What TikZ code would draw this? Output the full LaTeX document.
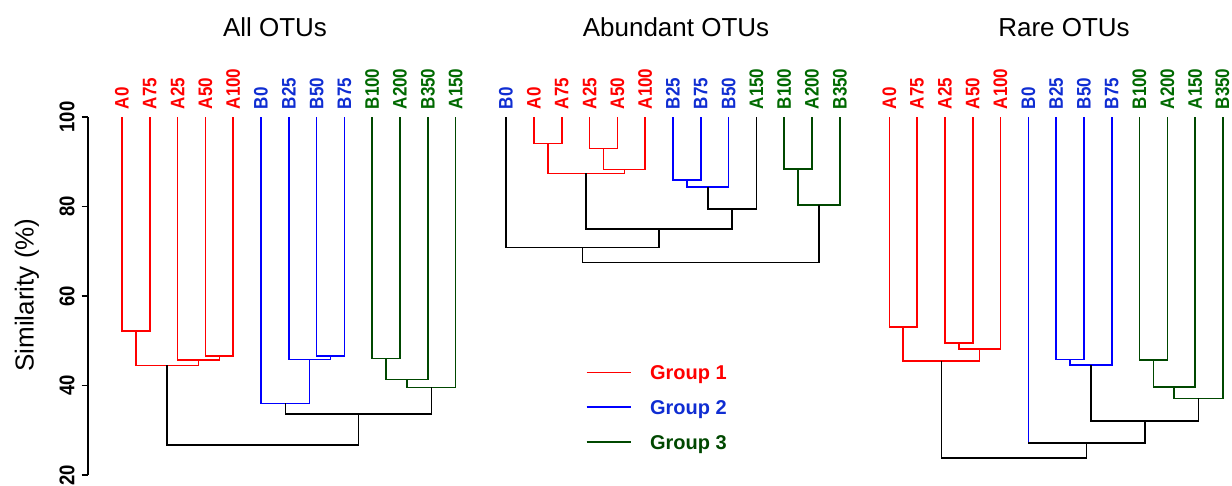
\documentclass[tikz,border=0pt]{standalone}
\usepackage{fontspec}
\setmainfont{Liberation Sans}
\definecolor{gred}{RGB}{255,0,0}
\definecolor{gblue}{RGB}{0,0,255}
\definecolor{ggreen}{RGB}{0,72,0}
\definecolor{lblue}{RGB}{15,45,210}
\definecolor{lgreen}{RGB}{0,105,0}
\newcommand\tall[1]{\scalebox{1}[1.15]{#1}}
\begin{document}
\begin{tikzpicture}[x=1pt,y=-1pt,line width=1.6pt,
    leaf/.style={rotate=90,anchor=west,inner sep=0pt,font=\bfseries\fontsize{17}{17}\selectfont},
    tick/.style={rotate=90,inner sep=0pt,font=\bfseries\fontsize{18.5}{18.5}\selectfont},
    ttl/.style={anchor=base,inner sep=0pt,font=\fontsize{26}{26}\selectfont},
    legend/.style={anchor=base west,inner sep=0pt,font=\bfseries\fontsize{20}{20}\selectfont}]
    \useasboundingbox (0,0) rectangle (1232,485);
    % 坐标轴
    \draw (87.8,117) -- (87.8,475);
    \foreach \v/\y in {100/117,80/206.5,60/296,40/385.5,20/475}{
        \draw (81.7,\y) -- (87.8,\y);
        \node[tick] (t\v) at (67,\y) {\tall{\v}};
    }
    \node[rotate=90,inner sep=0pt,font=\fontsize{26}{26}\selectfont] (ylab) at (27,295) {Similarity (\%)};
    % 标题
    \node[ttl] (all) at (275,36.7) {All OTUs};
    \node[ttl] (abd) at (676,36.7) {Abundant OTUs};
    \node[ttl] (rare) at (1064,36.7) {Rare OTUs};
    % All OTUs
    \foreach \x/\t/\c in {122/A0/gred,149.8/A75/gred,177.6/A25/gred,205.4/A50/gred,233.2/A100/gred,
        261/B0/lblue,288.8/B25/lblue,316.6/B50/lblue,344.4/B75/lblue,
        372.2/B100/lgreen,400/A200/lgreen,427.8/B350/lgreen,455.6/A150/lgreen}
        \node[leaf,text=\c] (all-\t) at (\x,110) {\tall{\t}};
    \draw[gred] (122,117) -- (122,330.7) -- (149.8,330.7) -- (149.8,117);
    \draw[gred] (205.4,117) -- (205.4,355.7) -- (233.2,355.7) -- (233.2,117);
    \draw[gred] (177.6,117) -- (177.6,360) -- (219.3,360) -- (219.3,355.7);
    \draw[gred] (135.9,330.7) -- (135.9,365.3) -- (198.45,365.3) -- (198.45,360);
    \draw[gblue] (316.6,117) -- (316.6,355.7) -- (344.4,355.7) -- (344.4,117);
    \draw[gblue] (288.8,117) -- (288.8,359.3) -- (330.5,359.3) -- (330.5,355.7);
    \draw[gblue] (261,117) -- (261,403.3) -- (309.65,403.3) -- (309.65,359.3);
    \draw[ggreen] (372.2,117) -- (372.2,358.3) -- (400,358.3) -- (400,117);
    \draw[ggreen] (386.1,358.3) -- (386.1,379.3) -- (427.8,379.3) -- (427.8,117);
    \draw[ggreen] (406.95,379.3) -- (406.95,387.3) -- (455.6,387.3) -- (455.6,117);
    \draw (285.3,403.3) -- (285.3,413.7) -- (431.3,413.7) -- (431.3,387.3);
    \draw (167.2,365.3) -- (167.2,444.7) -- (358.3,444.7) -- (358.3,413.7);
    % Abundant OTUs
    \foreach \x/\t/\c in {506/B0/lblue,534/A0/gred,561.8/A75/gred,589.6/A25/gred,617.4/A50/gred,645.2/A100/gred,
        673/B25/lblue,700.8/B75/lblue,728.6/B50/lblue,756.4/A150/lgreen,
        784.2/B100/lgreen,812/A200/lgreen,839.8/B350/lgreen}
        \node[leaf,text=\c] (abd-\t) at (\x,110) {\tall{\t}};
    \draw[gred] (534,117) -- (534,143.3) -- (561.8,143.3) -- (561.8,117);
    \draw[gred] (589.6,117) -- (589.6,148.3) -- (617.4,148.3) -- (617.4,117);
    \draw[gred] (603.5,148.3) -- (603.5,169.3) -- (645.2,169.3) -- (645.2,117);
    \draw[gred] (547.9,143.3) -- (547.9,173.3) -- (624.35,173.3) -- (624.35,169.3);
    \draw[gblue] (673,117) -- (673,180) -- (700.8,180) -- (700.8,117);
    \draw[gblue] (686.9,180) -- (686.9,186.7) -- (728.6,186.7) -- (728.6,117);
    \draw[ggreen] (784.2,117) -- (784.2,169) -- (812,169) -- (812,117);
    \draw[ggreen] (798.1,169) -- (798.1,205) -- (839.8,205) -- (839.8,117);
    \draw (707.75,186.7) -- (707.75,209) -- (756.4,209) -- (756.4,117);
    \draw (586.1,173.3) -- (586.1,228.7) -- (732.1,228.7) -- (732.1,209);
    \draw (506,117) -- (506,247.3) -- (659.1,247.3) -- (659.1,228.7);
    \draw (582.55,247.3) -- (582.55,262.3) -- (818.95,262.3) -- (818.95,205);
    % Rare OTUs
    \foreach \x/\t/\c in {889.3/A0/gred,917.1/A75/gred,944.9/A25/gred,972.7/A50/gred,1000.5/A100/gred,
        1028.3/B0/lblue,1056.1/B25/lblue,1083.9/B50/lblue,1111.7/B75/lblue,
        1139.5/B100/lgreen,1167.3/A200/lgreen,1195.1/A150/lgreen,1222.4/B350/lgreen}
        \node[leaf,text=\c] (rare-\t) at (\x,110) {\tall{\t}};
    \draw[gred] (889.3,117) -- (889.3,326.7) -- (917.1,326.7) -- (917.1,117);
    \draw[gred] (944.9,117) -- (944.9,342.7) -- (972.7,342.7) -- (972.7,117);
    \draw[gred] (958.8,342.7) -- (958.8,349) -- (1000.5,349) -- (1000.5,117);
    \draw[gred] (903.2,326.7) -- (903.2,360.7) -- (979.65,360.7) -- (979.65,349);
    \draw[gblue] (1056.1,117) -- (1056.1,359.3) -- (1083.9,359.3) -- (1083.9,117);
    \draw[gblue] (1070,359.3) -- (1070,365) -- (1111.7,365) -- (1111.7,117);
    \draw[gblue] (1028.3,117) -- (1028.3,442.7);
    \draw[ggreen] (1139.5,117) -- (1139.5,360) -- (1167.3,360) -- (1167.3,117);
    \draw[ggreen] (1153.4,360) -- (1153.4,386.7) -- (1195.1,386.7) -- (1195.1,117);
    \draw[ggreen] (1174.25,386.7) -- (1174.25,398.3) -- (1222.9,398.3) -- (1222.9,117);
    \draw (1090.85,365) -- (1090.85,420.7) -- (1198.6,420.7) -- (1198.6,398.3);
    \draw (1028.3,442.7) -- (1144.7,442.7) -- (1144.7,420.7);
    \draw (941.4,360.7) -- (941.4,457.7) -- (1086.5,457.7) -- (1086.5,442.7);
    % 图例
    \coordinate (l1) at (586.7,372.3);
    \coordinate (l2) at (586.7,406.7);
    \coordinate (l3) at (586.7,441.7);
    \draw[gred] (l1) -- ++(44.3,0);
    \draw[gblue] (l2) -- ++(44.3,0);
    \draw[ggreen] (l3) -- ++(44.3,0);
    \node[legend,text=gred] (g1) at (649.3,379.8) {Group 1};
    \node[legend,text=lblue] (g2) at (649.3,414.2) {Group 2};
    \node[legend,text=ggreen] (g3) at (649.3,449.2) {Group 3};
\end{tikzpicture}
\end{document}
